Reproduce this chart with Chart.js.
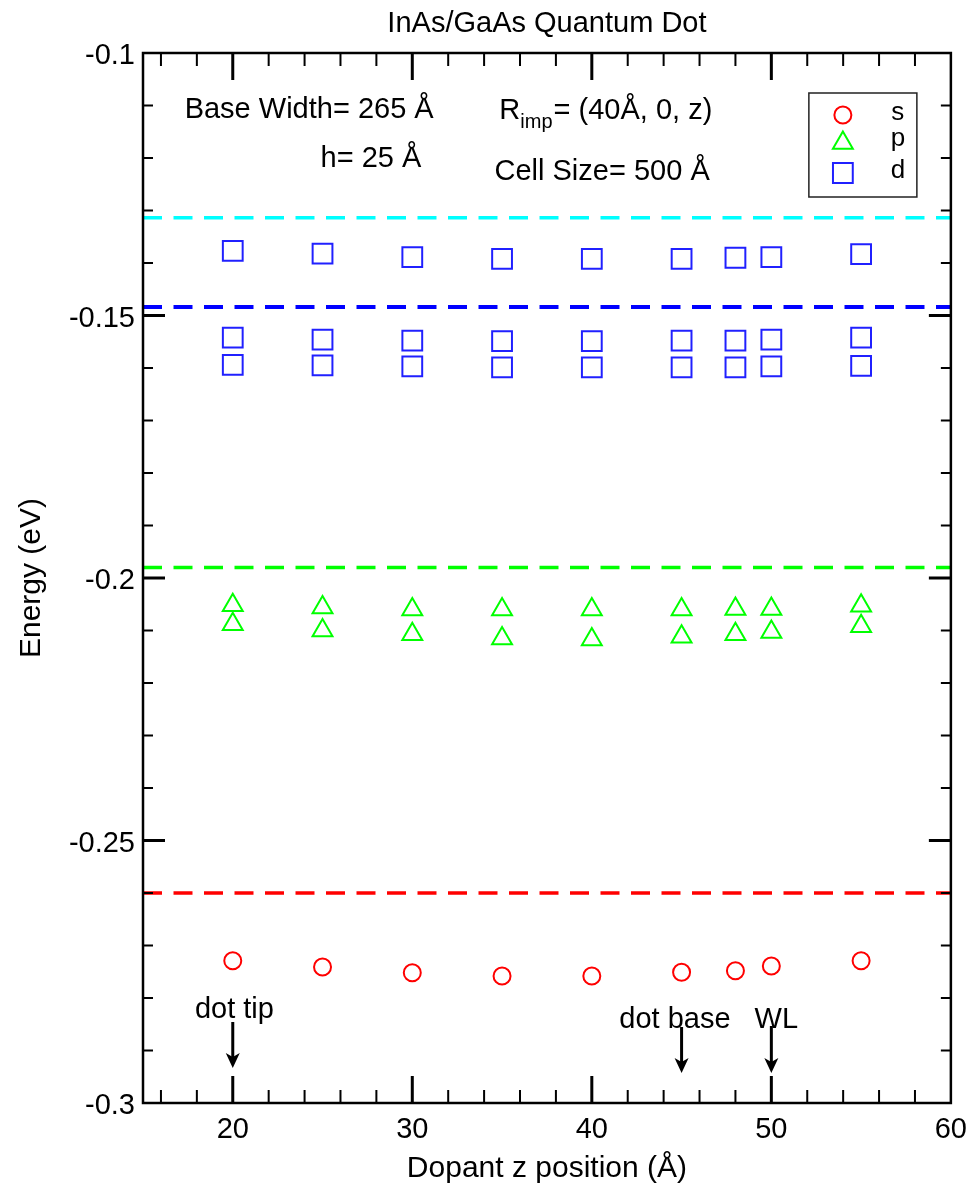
<!DOCTYPE html>
<html lang="en">
<head>
  <meta charset="UTF-8">
  <title>InAs/GaAs Quantum Dot</title>
  <script src="https://cdn.jsdelivr.net/npm/chart.js"></script>
  <style>
    body {
      margin: 0;
      background: #ffffff;
    }
    #chart {
      display: block;
    }
  </style>
</head>
<body>
  <canvas id="chart" width="977" height="1187"></canvas>

  <script>
    // Dopant z positions (Å)
    const zPos = [20, 25, 30, 35, 40, 45, 48, 50, 55];

    // s level
    const sLevel = [-0.2729, -0.2741, -0.2752, -0.2758, -0.2758, -0.2751, -0.2748, -0.2739, -0.2729];
    // p levels (two states)
    const pUpper = [-0.2052, -0.2056, -0.2060, -0.2060, -0.2060, -0.2060, -0.2059, -0.2059, -0.2053];
    const pLower = [-0.2088, -0.2100, -0.2107, -0.2115, -0.2117, -0.2112, -0.2107, -0.2103, -0.2092];
    // d levels (three states)
    const dTop = [-0.1377, -0.1382, -0.1389, -0.1392, -0.1392, -0.1392, -0.1390, -0.1389, -0.1383];
    const dMid = [-0.1542, -0.1546, -0.1548, -0.1549, -0.1549, -0.1548, -0.1548, -0.1546, -0.1542];
    const dLow = [-0.1594, -0.1595, -0.1597, -0.1599, -0.1599, -0.1599, -0.1599, -0.1597, -0.1596];

    // undoped reference levels (dashed lines)
    const refLevels = [-0.1314, -0.1484, -0.1980, -0.2600];
    const refColors = ['#00ffff', '#0000ff', '#00ff00', '#ff0000'];

    const xRange = [15, 60];
    const yRange = [-0.3, -0.1];

    const FONT = "'Liberation Sans', Arial, Helvetica, sans-serif";
    Chart.defaults.font.family = FONT;
    Chart.defaults.color = '#000';

    function pts(vals) {
      return zPos.map((z, i) => ({ x: z, y: vals[i] }));
    }

    const RED = '#ff0000', GREEN = '#00ff00', BLUE = '#2020ff';

    function markerSet(label, vals, color, style, r) {
      return {
        label: label,
        data: pts(vals),
        showLine: false,
        pointStyle: style,
        pointRadius: r,
        pointBorderWidth: 2,
        pointBorderColor: color,
        pointBackgroundColor: 'rgba(0,0,0,0)',
        borderColor: color
      };
    }

    const lineSets = refLevels.map((lvl, i) => ({
      label: 'ref' + i,
      data: [{ x: xRange[0], y: lvl }, { x: xRange[1], y: lvl }],
      showLine: true,
      pointRadius: 0,
      borderColor: refColors[i],
      borderWidth: i === 1 ? 4 : 3.5,
      borderDash: [19, 11.5]
    }));

    // draw a marker like chart.js does
    function marker(ctx, style, cx, cy, r) {
      ctx.beginPath();
      if (style === 'circle') {
        ctx.arc(cx, cy, r, 0, Math.PI * 2);
      } else if (style === 'triangle') {
        for (let k = 0; k < 3; k++) {
          const a = k * 2 * Math.PI / 3;
          const px = cx + Math.sin(a) * r, py = cy - Math.cos(a) * r;
          if (k === 0) ctx.moveTo(px, py); else ctx.lineTo(px, py);
        }
        ctx.closePath();
      } else {
        const s = Math.SQRT1_2 * r;
        ctx.rect(cx - s, cy - s, 2 * s, 2 * s);
      }
      ctx.stroke();
    }

    const decor = {
      id: 'decor',
      afterDatasetsDraw(chart) {
        const { ctx, chartArea: a, scales: { x, y } } = chart;
        ctx.save();
        ctx.strokeStyle = '#000';
        ctx.fillStyle = '#000';

        // inward ticks, all four sides
        for (let v = 16; v <= 58; v += 2) {
          const px = x.getPixelForValue(v);
          const major = v % 10 === 0;
          const len = major ? 27 : 13;
          ctx.lineWidth = major ? 3 : 2;
          ctx.beginPath();
          ctx.moveTo(px, a.bottom); ctx.lineTo(px, a.bottom - len);
          ctx.moveTo(px, a.top); ctx.lineTo(px, a.top + len);
          ctx.stroke();
        }
        for (let i = 1; i < 20; i++) {
          const py = y.getPixelForValue(yRange[0] + i * 0.01);
          const major = i % 5 === 0;
          const len = major ? 22 : 10;
          ctx.lineWidth = major ? 3 : 2;
          ctx.beginPath();
          ctx.moveTo(a.left, py); ctx.lineTo(a.left + len, py);
          ctx.moveTo(a.right, py); ctx.lineTo(a.right - len, py);
          ctx.stroke();
        }
        ctx.lineWidth = 2.5;
        ctx.strokeRect(a.left, a.top, a.right - a.left, a.bottom - a.top);

        // title
        ctx.font = '29px ' + FONT;
        ctx.textAlign = 'center';
        ctx.textBaseline = 'alphabetic';
        ctx.fillText('InAs/GaAs Quantum Dot', (a.left + a.right) / 2, a.top - 21);

        // info texts
        ctx.textAlign = 'left';
        ctx.fillText('Base Width= 265 \u00c5', x.getPixelForValue(17.32), y.getPixelForValue(-0.11244));
        ctx.fillText('h= 25 \u00c5', x.getPixelForValue(24.89), y.getPixelForValue(-0.12166));
        ctx.fillText('Cell Size= 500 \u00c5', x.getPixelForValue(34.58), y.getPixelForValue(-0.12419));
        let rx = x.getPixelForValue(34.85);
        const ry = y.getPixelForValue(-0.11263);
        ctx.fillText('R', rx, ry);
        rx += ctx.measureText('R').width;
        ctx.font = '20px ' + FONT;
        ctx.fillText('imp', rx, ry + 9);
        rx += ctx.measureText('imp').width + 1;
        ctx.font = '29px ' + FONT;
        ctx.fillText('= (40\u00c5, 0, z)', rx, ry);

        // arrows with labels
        const notes = [
          { text: 'dot tip', tx: 20.09, ty: -0.28381, z: 20, from: -0.28457, to: -0.29333 },
          { text: 'dot base', tx: 44.63, ty: -0.28577, z: 45, from: -0.28552, to: -0.29429 },
          { text: 'WL', tx: 50.28, ty: -0.28577, z: 50, from: -0.28533, to: -0.29429 }
        ];
        ctx.textAlign = 'center';
        notes.forEach(n => {
          ctx.fillText(n.text, x.getPixelForValue(n.tx), y.getPixelForValue(n.ty));
          const ax = x.getPixelForValue(n.z);
          const y0 = y.getPixelForValue(n.from);
          const y1 = y.getPixelForValue(n.to);
          ctx.lineWidth = 3;
          ctx.beginPath();
          ctx.moveTo(ax, y0); ctx.lineTo(ax, y1 - 10);
          ctx.stroke();
          ctx.beginPath();
          ctx.moveTo(ax, y1);
          ctx.lineTo(ax - 7, y1 - 15);
          ctx.lineTo(ax, y1 - 11);
          ctx.lineTo(ax + 7, y1 - 15);
          ctx.closePath();
          ctx.fill();
        });

        // legend box
        const bx = a.right - 142, by = a.top + 40, bw = 108, bh = 104;
        ctx.lineWidth = 1.5;
        ctx.strokeStyle = '#222';
        ctx.strokeRect(bx, by, bw, bh);
        const rows = [
          { label: 's', color: RED, style: 'circle', r: 8.5, my: 22, ly: 20 },
          { label: 'p', color: GREEN, style: 'triangle', r: 11.5, my: 50, ly: 46 },
          { label: 'd', color: BLUE, style: 'rect', r: 14, my: 80, ly: 78 }
        ];
        ctx.font = '26px ' + FONT;
        ctx.textBaseline = 'middle';
        rows.forEach(rw => {
          ctx.strokeStyle = rw.color;
          ctx.lineWidth = 2;
          marker(ctx, rw.style, bx + 34, by + rw.my, rw.r);
          ctx.fillStyle = '#000';
          ctx.fillText(rw.label, bx + 89, by + rw.ly);
        });

        ctx.restore();
      }
    };

    new Chart(document.getElementById('chart'), {
      type: 'scatter',
      data: {
        datasets: [
          ...lineSets,
          markerSet('s', sLevel, RED, 'circle', 8.5),
          markerSet('p', pUpper, GREEN, 'triangle', 11.5),
          markerSet('p2', pLower, GREEN, 'triangle', 11.5),
          markerSet('d', dTop, BLUE, 'rect', 14),
          markerSet('d2', dMid, BLUE, 'rect', 14),
          markerSet('d3', dLow, BLUE, 'rect', 14)
        ]
      },
      options: {
        responsive: false,
        animation: false,
        layout: { padding: { left: 0, top: 53, right: 21, bottom: 0 } },
        plugins: {
          legend: { display: false },
          tooltip: { enabled: false }
        },
        scales: {
          x: {
            type: 'linear',
            min: xRange[0],
            max: xRange[1],
            grid: { display: false, drawTicks: false },
            border: { display: false },
            ticks: {
              stepSize: 10,
              includeBounds: false,
              padding: 10,
              font: { size: 29 },
              color: '#000'
            },
            title: {
              display: true,
              text: 'Dopant z position (\u00c5)',
              font: { size: 30 },
              color: '#000',
              padding: { top: 0, bottom: 0 }
            },
            afterFit(scale) { scale.height = 84; }
          },
          y: {
            type: 'linear',
            min: yRange[0],
            max: yRange[1],
            grid: { display: false, drawTicks: false },
            border: { display: false },
            ticks: {
              stepSize: 0.05,
              padding: 8,
              labelOffset: 3,
              font: { size: 29 },
              color: '#000',
              callback: v => String(+v.toFixed(2))
            },
            title: {
              display: true,
              text: 'Energy (eV)',
              font: { size: 30 },
              color: '#000',
              padding: { top: 14, bottom: 0 }
            },
            afterFit(scale) { scale.width = 143; }
          }
        }
      },
      plugins: [decor]
    });
  </script>
</body>
</html>
